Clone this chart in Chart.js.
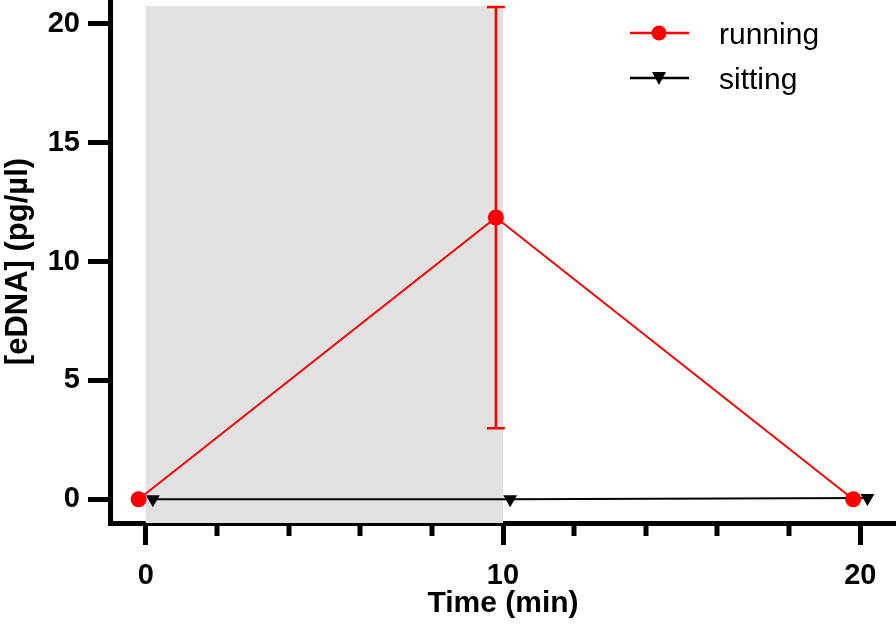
<!DOCTYPE html>
<html>
<head>
<meta charset="utf-8">
<script src="https://cdn.jsdelivr.net/npm/chart.js@4"></script>
<style>
html, body { margin: 0; padding: 0; background: #fff; }
</style>
</head>
<body>
<canvas id="myChart" width="896" height="624"></canvas>
<script>
// data
var timePoints = [0, 10, 20];
var runningMean = [0, 11.85, 0];
var runningErr = [0, 8.86, 0];
var sittingMean = [0, 0, 0.05];
var xTicks = [0, 10, 20];
var xMinorTicks = [2, 4, 6, 8, 12, 14, 16, 18];
var yTicks = [0, 5, 10, 15, 20];
var shadeX = [0, 10];      // activity period
var shadeTop = 20.75;

var FONT = "'Liberation Sans', Arial, sans-serif";
var nudge = 0.2; // points are shifted sideways so they don't overlap

var plugins = [{
  id: "extras",
  beforeDatasetsDraw: function(chart) {
    var ctx = chart.ctx, x = chart.scales.x, y = chart.scales.y;
    var a = chart.chartArea;
    // grey box
    ctx.save();
    ctx.fillStyle = "#e1e1e1";
    var x0 = x.getPixelForValue(shadeX[0]), x1 = x.getPixelForValue(shadeX[1]);
    var yt = y.getPixelForValue(shadeTop);
    ctx.fillRect(x0, yt, x1 - x0, a.bottom - yt);
    // error bars of running
    var meta = chart.getDatasetMeta(0);
    ctx.strokeStyle = "#ff0000";
    ctx.lineWidth = 2.5;
    meta.data.forEach(function(pt, i) {
      if (!runningErr[i]) return;
      var px = pt.x;
      var hi = y.getPixelForValue(runningMean[i] + runningErr[i]);
      var lo = y.getPixelForValue(runningMean[i] - runningErr[i]);
      ctx.beginPath();
      ctx.moveTo(px, hi); ctx.lineTo(px, lo);
      ctx.moveTo(px - 9, hi); ctx.lineTo(px + 9, hi);
      ctx.moveTo(px - 9, lo); ctx.lineTo(px + 9, lo);
      ctx.stroke();
    });
    ctx.restore();
  },
  afterDraw: function(chart) {
    var ctx = chart.ctx, x = chart.scales.x;
    var a = chart.chartArea;
    ctx.save();
    // minor ticks
    ctx.strokeStyle = "#000";
    ctx.lineWidth = 5;
    xMinorTicks.forEach(function(v) {
      var px = Math.round(x.getPixelForValue(v));
      ctx.beginPath();
      ctx.moveTo(px, a.bottom);
      ctx.lineTo(px, a.bottom + 13);
      ctx.stroke();
    });
    // legend
    var rows = [33, 78];
    chart.data.datasets.forEach(function(ds, i) {
      var ly = rows[i];
      ctx.strokeStyle = ds.borderColor;
      ctx.lineWidth = 2.5;
      ctx.beginPath();
      ctx.moveTo(630, ly); ctx.lineTo(689, ly);
      ctx.stroke();
      ctx.fillStyle = ds.borderColor;
      ctx.beginPath();
      if (ds.pointStyle === "circle") {
        ctx.arc(659, ly, 7.5, 0, Math.PI * 2);
      } else {
        ctx.moveTo(652, ly - 6); ctx.lineTo(666, ly - 6); ctx.lineTo(659, ly + 7);
        ctx.closePath();
      }
      ctx.fill();
      ctx.fillStyle = "#000";
      ctx.font = "30px " + FONT;
      ctx.textBaseline = "middle";
      ctx.textAlign = "left";
      ctx.fillText(ds.label, 719, ly + 3);
    });
    ctx.restore();
  }
}];

var ctx = document.getElementById("myChart").getContext("2d");
new Chart(ctx, {
  type: "line",
  data: {
    datasets: [
      {
        label: "running",
        data: timePoints.map(function(t, i) { return { x: t - nudge, y: runningMean[i] }; }),
        borderColor: "#ff0000",
        backgroundColor: "#ff0000",
        borderWidth: 2,
        pointStyle: "circle",
        pointRadius: 8,
        pointBorderWidth: 0,
        pointBackgroundColor: "#ff0000",
        tension: 0
      },
      {
        label: "sitting",
        data: timePoints.map(function(t, i) { return { x: t + nudge, y: sittingMean[i] }; }),
        borderColor: "#000000",
        backgroundColor: "#000000",
        borderWidth: 2,
        pointStyle: "triangle",
        rotation: 180,
        pointRadius: 8,
        pointBorderWidth: 0,
        pointBackgroundColor: "#000000",
        tension: 0
      }
    ]
  },
  options: {
    responsive: false,
    animation: false,
    devicePixelRatio: 1,
    layout: { padding: 0, autoPadding: false },
    clip: false,
    plugins: {
      legend: { display: false },
      tooltip: { enabled: false }
    },
    scales: {
      x: {
        type: "linear",
        min: -1,
        max: 21,
        afterBuildTicks: function(s) { s.ticks = xTicks.map(function(v) { return { value: v }; }); },
        afterFit: function(s) { s.height = 101; s.paddingLeft = 0; s.paddingRight = 0; },
        ticks: { color: "#000", padding: 14, font: { family: FONT, size: 29, weight: "bold" } },
        grid: { drawOnChartArea: false, tickLength: 22, tickWidth: 5, tickColor: "#000" },
        border: { color: "#000", width: 5 },
        title: { display: true, text: "Time (min)", color: "#000", padding: { top: 0, bottom: 2 },
                 font: { family: FONT, size: 30, weight: "bold" } }
      },
      y: {
        type: "linear",
        min: -1,
        max: 21,
        afterBuildTicks: function(s) { s.ticks = yTicks.map(function(v) { return { value: v }; }); },
        afterFit: function(s) { s.width = 110; s.paddingTop = 0; s.paddingBottom = 0; },
        ticks: { color: "#000", padding: 8, font: { family: FONT, size: 29, weight: "bold" } },
        grid: { drawOnChartArea: false, tickLength: 22, tickWidth: 5, tickColor: "#000" },
        border: { color: "#000", width: 5 },
        title: { display: true, text: "[eDNA] (pg/µl)", color: "#000", padding: { top: 0, bottom: 0 },
                 font: { family: FONT, size: 31, weight: "bold" } }
      }
    }
  },
  plugins: plugins
});
</script>
</body>
</html>
